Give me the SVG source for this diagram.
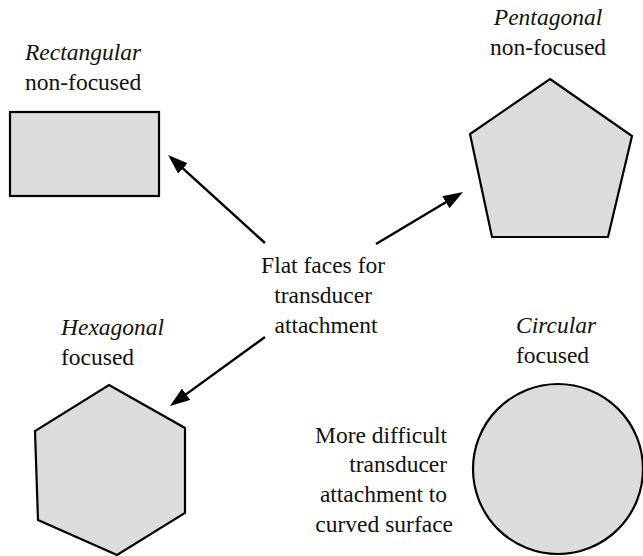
<svg xmlns="http://www.w3.org/2000/svg" width="643" height="556" viewBox="0 0 643 556">
  <style>
    .shape { fill: #dcdcdc; stroke: #000; stroke-width: 2.2; stroke-linejoin: miter; }
    .lbl { font-family: "Liberation Serif", "DejaVu Serif", serif; font-size: 23.5px; fill: #111; }
    .it { font-style: italic; }
    .conn { stroke: #000; stroke-width: 2.4; fill: none; marker-end: url(#head); }
  </style>
  <defs>
    <!-- solid triangular arrowhead, tip 4px past the line end -->
    <marker id="head" viewBox="0 0 20 14" refX="16" refY="7" markerWidth="20" markerHeight="14" markerUnits="userSpaceOnUse" orient="auto">
      <path d="M0,0 L20,7 L0,14 Z" fill="#000"/>
    </marker>
  </defs>
  <rect width="643" height="556" fill="#fff"/>

  <g id="rectangular">
    <rect class="shape" x="10" y="112" width="149" height="84"/>
    <text class="lbl it" x="25" y="60">Rectangular</text>
    <text class="lbl" x="25" y="90">non-focused</text>
  </g>

  <g id="pentagonal">
    <polygon class="shape" points="550,79 632,136 608,237 492,237 470,134"/>
    <text class="lbl it" x="548" y="25" text-anchor="middle">Pentagonal</text>
    <text class="lbl" x="548" y="55" text-anchor="middle">non-focused</text>
  </g>

  <g id="hexagonal">
    <polygon class="shape" points="109,385 185,428 185,513 117,555 38,520 35,431"/>
    <text class="lbl it" x="61" y="335">Hexagonal</text>
    <text class="lbl" x="61" y="365">focused</text>
  </g>

  <g id="circular">
    <circle class="shape" cx="558" cy="469" r="85"/>
    <text class="lbl it" x="516" y="333">Circular</text>
    <text class="lbl" x="516" y="363">focused</text>
    <text class="lbl" text-anchor="end">
      <tspan x="453" y="443">More difficult</tspan>
      <tspan x="453" y="472">transducer</tspan>
      <tspan x="453" y="502">attachment to</tspan>
      <tspan x="453" y="532">curved surface</tspan>
    </text>
  </g>

  <g id="flat-faces">
    <text class="lbl" text-anchor="middle">
      <tspan x="326" y="273">Flat faces for</tspan>
      <tspan x="326" y="303">transducer</tspan>
      <tspan x="326" y="333">attachment</tspan>
    </text>
  </g>

  <g id="connectors">
    <line class="conn" x1="265" y1="243" x2="171" y2="157.7"/>
    <line class="conn" x1="376" y1="244" x2="459.6" y2="194"/>
    <line class="conn" x1="265" y1="337" x2="173.2" y2="403.6"/>
  </g>
</svg>
